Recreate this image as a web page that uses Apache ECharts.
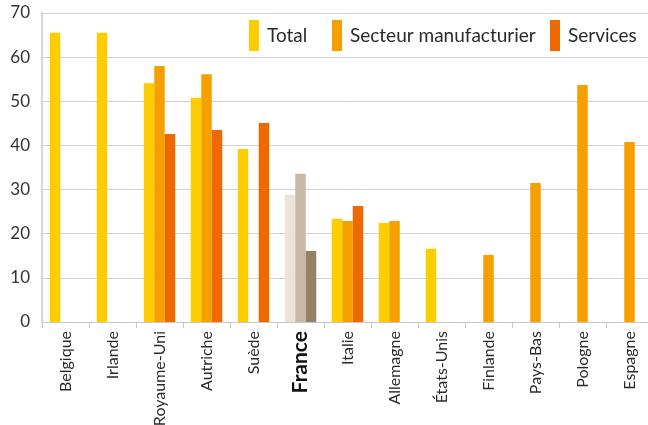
<!DOCTYPE html>
<html>
<head>
<meta charset="utf-8">
<script src="https://cdn.jsdelivr.net/npm/echarts@6/dist/echarts.min.js"></script>
<style>
  html, body { margin: 0; padding: 0; background: #fff; }
  #chart { width: 648px; height: 425px; }
</style>
</head>
<body>
<div id="chart"></div>
<script>
// pays, dans l'ordre du graphique
var categories = ['Belgique', 'Irlande', 'Royaume-Uni', 'Autriche', 'Suède', 'France',
  'Italie', 'Allemagne', 'États-Unis', 'Finlande', 'Pays-Bas', 'Pologne', 'Espagne'];
var total = [65.5, 65.5, 54.1, 50.8, 39.2, 28.8, 23.4, 22.4, 16.6, null, null, null, null];
var manufacturier = [null, null, 58.0, 56.1, null, 33.6, 22.9, 22.9, null, 15.2, 31.5, 53.7, 40.8];
var services = [null, null, 42.6, 43.5, 45.1, 16.1, 26.3, null, null, null, null, null, null];
var yTicks = [0, 10, 20, 30, 40, 50, 60, 70];

var colors = ['#FDCD00', '#F6A000', '#EE6900'];
var franceColors = ['#EDE3D6', '#C7B9A5', '#958265'];
var fontName = 'Lato, "Open Sans", sans-serif';

// France en beige
function withFrance(arr, idx) {
  return arr.map(function (v, i) {
    if (categories[i] === 'France' && v != null) {
      return { value: v, itemStyle: { color: franceColors[idx] } };
    }
    return v;
  });
}

var chart = echarts.init(document.getElementById('chart'));
var names = ['Total', 'Secteur manufacturier', 'Services'];
var datas = [total, manufacturier, services];
var legendLeft = [244, 327, 545];

chart.setOption({
  animation: false,
  textStyle: { fontFamily: fontName },
  legend: names.map(function (n, i) {
    return {
      left: legendLeft[i],
      top: 15,
      itemWidth: 10,
      itemHeight: 31,
      icon: 'rect',
      textStyle: { fontSize: 19, color: '#2a2a2a', fontFamily: fontName, padding: [0, 0, 0, 3] },
      data: [n]
    };
  }),
  grid: {
    left: 42,
    width: 611,
    top: 13,
    bottom: 103,
    outerBoundsMode: 'none',
    containLabel: false
  },
  xAxis: {
    type: 'category',
    data: categories,
    axisLine: { lineStyle: { color: '#c8c8c8', width: 1 } },
    axisTick: { show: true, length: 6, lineStyle: { color: '#c8c8c8' } },
    axisLabel: {
      rotate: 90,
      margin: 9,
      fontSize: 16,
      color: '#2a2a2a',
      fontFamily: fontName,
      formatter: function (v) {
        return v === 'France' ? '{fr|' + v + '}' : v;
      },
      rich: {
        fr: { fontSize: 21, fontWeight: 'bold', color: '#111', fontFamily: fontName }
      }
    }
  },
  yAxis: {
    type: 'value',
    min: yTicks[0],
    max: yTicks[yTicks.length - 1],
    interval: 10,
    axisLine: { show: true, lineStyle: { color: '#c8c8c8', width: 1.5 } },
    axisTick: { show: false },
    axisLabel: { fontSize: 17, color: '#333', margin: 12, fontFamily: fontName },
    splitLine: { lineStyle: { color: '#d0d0d0', width: 1 } }
  },
  series: datas.map(function (d, i) {
    return {
      name: names[i],
      type: 'bar',
      data: withFrance(d, i),
      barWidth: 10.5,
      barGap: '0%',
      itemStyle: { color: colors[i] }
    };
  })
});
</script>
</body>
</html>
